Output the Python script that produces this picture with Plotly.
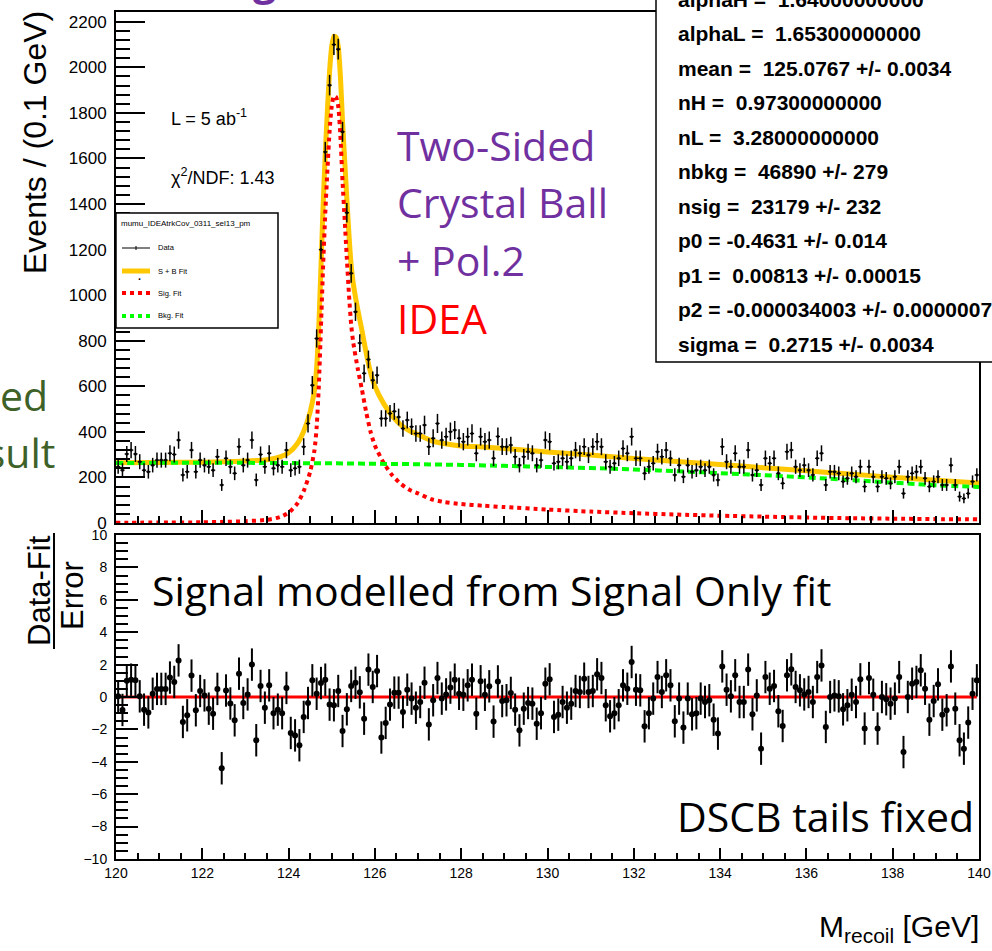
import plotly.graph_objects as go

W, H = 992, 951
def PX(p):
    return p / W
def PY(p):
    return 1 - p / H

HELV = "Liberation Sans, Arial, Helvetica, sans-serif"
SLIDE = "Open Sans, Lato, sans-serif"

# ---------------- data ----------------
bin_centers = [round(120.05 + 0.1 * i, 2) for i in range(200)]

events = [
    247, 232, 303, 320, 303, 269, 232, 225, 254, 276,
    276, 276, 306, 301, 364, 211, 225, 320, 225, 276,
    254, 247, 232, 291, 167, 284, 247, 218, 335, 254,
    276, 364, 189, 301, 247, 306, 240, 254, 247, 320,
    232, 240, 247, 335, 437, 605, 810, 1200, 1629, 1922,
    2100, 2080, 1717, 1362, 1096, 927, 790, 657, 718, 627,
    649, 459, 459, 481, 490, 465, 415, 452, 423, 393,
    393, 430, 335, 372, 437, 364, 379, 401, 408, 372,
    357, 379, 393, 306, 379, 357, 364, 284, 380, 335,
    335, 342, 291, 254, 291, 313, 306, 254, 276, 364,
    357, 262, 269, 284, 269, 284, 320, 306, 335, 298,
    335, 357, 335, 269, 247, 262, 284, 327, 306, 379,
    284, 284, 218, 247, 262, 313, 291, 320, 284, 211,
    254, 203, 254, 225, 232, 247, 232, 247, 211, 189,
    335, 269, 247, 306, 247, 247, 320, 211, 232, 167,
    284, 262, 284, 218, 174, 313, 320, 247, 232, 254,
    232, 211, 284, 306, 167, 225, 225, 218, 182, 196,
    218, 203, 247, 160, 247, 203, 160, 203, 196, 174,
    203, 247, 130, 203, 218, 225, 247, 196, 160, 182,
    203, 167, 167, 254, 167, 116, 108, 130, 182, 211,
]

events_err = [
    31, 30, 35, 36, 35, 33, 30, 30, 32, 33,
    33, 33, 35, 35, 38, 29, 30, 36, 30, 33,
    32, 31, 30, 34, 26, 34, 31, 30, 37, 32,
    33, 38, 28, 35, 31, 35, 31, 32, 31, 36,
    30, 31, 31, 37, 40, 40, 40, 42, 44, 45,
    46, 46, 44, 43, 41, 40, 39, 39, 39, 38,
    38, 36, 36, 37, 37, 37, 36, 37, 36, 36,
    36, 41, 37, 39, 42, 38, 39, 40, 40, 39,
    38, 39, 40, 35, 39, 38, 38, 34, 39, 37,
    37, 37, 34, 32, 34, 35, 35, 32, 33, 38,
    38, 32, 33, 34, 33, 34, 36, 35, 37, 35,
    37, 38, 37, 33, 31, 32, 34, 36, 35, 39,
    34, 34, 30, 31, 32, 35, 34, 36, 34, 29,
    32, 28, 32, 30, 30, 31, 30, 31, 29, 28,
    37, 33, 31, 35, 31, 31, 36, 29, 30, 26,
    34, 32, 34, 30, 26, 35, 36, 31, 30, 32,
    30, 29, 34, 35, 26, 30, 30, 30, 27, 28,
    30, 28, 31, 25, 31, 28, 25, 28, 28, 26,
    28, 31, 23, 28, 30, 30, 31, 28, 25, 27,
    28, 26, 26, 32, 26, 22, 21, 23, 27, 29,
]

pulls = [
    0.04, -0.8, 1.0, 1.07, 1.03, 0.04, -0.78, -0.95, 0.2, 0.5,
    0.5, 0.5, 1.2, 0.93, 2.26, -1.54, -1.13, 1.32, -0.82, 0.37,
    0.1, -0.72, -1.03, 0.5, -4.4, 0.4, -0.4, -1.44, 1.44, -0.37,
    0.16, 2.0, -2.67, 0.68, -0.66, 0.72, -1.0, -0.78, -1.0, 0.56,
    -2.22, -2.37, -2.98, -1.23, -0.37, 1.03, 0.2, 0.86, 1.07, -0.47,
    -0.51, 0.37, -2.1, -0.76, 0.68, 0.88, 0.29, -1.34, 1.69, 0.62,
    1.6, -2.5, -1.6, -0.47, 0.27, 0.27, -0.93, 0.45, -0.1, -0.66,
    -0.31, 0.88, -1.69, -0.2, 1.17, -0.1, 0.16, 0.58, 1.07, 0.2,
    0.14, 0.72, 1.07, -1.03, 0.97, 0.14, 0.66, -1.52, 0.96, -0.25,
    -0.2, 0.25, -0.78, -2.06, -0.72, -0.37, -0.41, -1.65, -1.0, 0.82,
    1.09, -1.23, -1.09, -0.31, -0.66, -0.41, 0.37, 0.31, 1.13, 0.31,
    0.37, 1.4, 1.17, -0.51, -1.19, -1.0, -0.51, 0.72, 0.51, 2.16,
    0.45, 0.41, -1.81, -1.0, -0.1, 1.23, 0.31, 1.34, 0.72, -1.5,
    -0.1, -1.89, -0.1, -1.07, -1.0, -0.1, -0.31, -0.2, -1.4, -2.26,
    1.89, 0.45, 0.04, 1.34, -0.31, -0.31, 1.69, -1.07, 0.1, -3.19,
    1.23, 0.51, 0.68, -0.88, -1.79, 1.34, 1.71, 0.62, 0.41, 0.16,
    0.31, -0.31, 1.23, 1.95, -1.85, 0.0, 0.1, 0.04, -0.76, -0.51,
    0.14, -0.31, 1.09, -1.95, 1.17, 0.14, -1.95, 0.0, -0.14, -0.41,
    -0.1, 1.23, -3.4, 0.0, 0.82, 0.93, 1.65, 0.51, -1.4, -0.25,
    0.78, -1.09, -0.82, 1.89, -0.72, -2.67, -3.19, -1.58, 0.2, 1.03,
]

curve_x = [120.0, 121.0, 122.0, 122.5, 123.0, 123.5, 123.8, 124.0, 124.2, 124.35,
           124.5, 124.6, 124.65, 124.7, 124.75, 124.8, 124.85, 124.9, 124.95, 125.0,
           125.05, 125.1, 125.15, 125.2, 125.25, 125.3, 125.35, 125.4, 125.45, 125.5,
           125.6, 125.7, 125.8, 125.9, 126.0, 126.2, 126.4, 126.6, 126.8, 127.0,
           127.3, 127.6, 128.0, 128.5, 129.0, 130.0, 131.0, 132.0, 133.0, 134.0,
           135.0, 136.0, 137.0, 138.0, 139.0, 140.0]

sig_fit = [1, 2, 3, 5, 8, 14, 26, 45, 85, 140,
           225, 320, 420, 600, 860, 1130, 1360, 1550, 1720, 1830,
           1875, 1870, 1830, 1700, 1500, 1330, 1160, 1000, 870, 790,
           680, 585, 485, 400, 340, 265, 210, 172, 146, 130,
           105, 92, 83, 76, 70, 59, 50, 43, 37, 32,
           28, 24, 21, 19, 17, 16]

sb_fit = [264, 266, 267, 269, 272, 278, 290, 308, 348, 403,
          488, 583, 683, 863, 1123, 1393, 1623, 1813, 1983, 2093,
          2137, 2132, 2092, 1962, 1762, 1592, 1422, 1262, 1130, 1050,
          940, 845, 745, 660, 600, 525, 470, 431, 405, 388,
          362, 349, 338, 334, 327, 312, 298, 283, 270, 257,
          243, 229, 215, 201, 188, 176]

bkg_x = [120, 121, 122, 123, 124, 125, 126, 127, 128, 129, 130,
         131, 132, 133, 134, 135, 136, 137, 138, 139, 140]
bkg_fit = [263, 264, 264, 264, 263, 262, 260, 258, 255, 251, 246,
           241, 235, 227, 219, 210, 200, 189, 177, 166, 158]

x_ticks = [120, 122, 124, 126, 128, 130, 132, 134, 136, 138, 140]

stats_lines = [
    "alphaH =\u00a0 1.64000000000",
    "alphaL =\u00a0 1.65300000000",
    "mean =\u00a0 125.0767 +/- 0.0034",
    "nH =\u00a0 0.97300000000",
    "nL =\u00a0 3.28000000000",
    "nbkg =\u00a0 46890 +/- 279",
    "nsig =\u00a0 23179 +/- 232",
    "p0 = -0.4631 +/- 0.014",
    "p1 =\u00a0 0.00813 +/- 0.00015",
    "p2 = -0.000034003 +/- 0.00000071",
    "sigma =\u00a0 0.2715 +/- 0.0034",
]
legend_title = "mumu_IDEAtrkCov_0311_sel13_pm"
legend_labels = ["Data", "S + B Fit", "Sig. Fit", "Bkg. Fit"]

# colours
C_SB = "#FFC800"
C_SIG = "#FF0000"
C_BKG = "#00FF00"
PURPLE = "#7030A0"
GREEN_TXT = "#3E6128"

fig = go.Figure()

fig.add_trace(go.Scatter(x=curve_x, y=sb_fit, mode="lines", xaxis="x", yaxis="y",
                         line=dict(color=C_SB, width=5, shape="spline", smoothing=0.6)))
fig.add_trace(go.Scatter(x=curve_x, y=sig_fit, mode="lines", xaxis="x", yaxis="y",
                         line=dict(color=C_SIG, width=4, dash="dot", shape="spline", smoothing=0.6)))
fig.add_trace(go.Scatter(x=bkg_x, y=bkg_fit, mode="lines", xaxis="x", yaxis="y",
                         line=dict(color=C_BKG, width=4, dash="7px,4px", shape="spline")))
fig.add_trace(go.Scatter(x=bin_centers, y=events, mode="markers", xaxis="x", yaxis="y",
                         marker=dict(color="black", size=3),
                         error_y=dict(type="data", array=events_err, color="black", thickness=1.5, width=0),
                         error_x=dict(type="constant", value=0.05, color="black", thickness=1.2, width=0)))
fig.add_trace(go.Scatter(x=bin_centers, y=pulls, mode="markers", xaxis="x2", yaxis="y2",
                         marker=dict(color="black", size=6),
                         error_y=dict(type="constant", value=1, color="black", thickness=2, width=0)))

axis_common = dict(showgrid=False, zeroline=False, showline=True, linecolor="black",
                   linewidth=2, mirror=True, ticks="inside", tickcolor="black", tickwidth=2)

fig.update_layout(
    width=W, height=H,
    margin=dict(l=0, r=0, t=0, b=0, pad=0, autoexpand=False),
    paper_bgcolor="white", plot_bgcolor="white",
    showlegend=False,
    xaxis=dict(domain=[PX(116), PX(979)], range=[120, 140], anchor="y",
               showticklabels=False, tickvals=x_ticks, ticklen=13,
               minor=dict(ticks="inside", ticklen=7, dtick=0.5, tickcolor="black", tickwidth=1.5),
               **axis_common),
    yaxis=dict(domain=[PY(523), PY(12)], range=[0, 2243], anchor="x",
               dtick=200, tick0=0, ticklen=29,
               tickfont=dict(family=HELV, size=17, color="black"), ticklabelstandoff=4,
               minor=dict(ticks="inside", ticklen=14, dtick=40, tickcolor="black", tickwidth=1.5),
               **axis_common),
    xaxis2=dict(domain=[PX(116), PX(979)], range=[120, 140], anchor="y2",
                tickvals=x_ticks, ticklen=11,
                tickfont=dict(family=HELV, size=14, color="black"),
                minor=dict(ticks="inside", ticklen=6, dtick=0.5, tickcolor="black", tickwidth=1.5),
                **axis_common),
    yaxis2=dict(domain=[PY(859), PY(535)], range=[-10.001, 10.001], anchor="x2",
                dtick=2, tick0=0, ticklen=22,
                tickfont=dict(family=HELV, size=14, color="black"), ticklabelstandoff=4,
                minor=dict(ticks="inside", ticklen=12, dtick=0.5, tickcolor="black", tickwidth=1.5),
                **axis_common),
)

shapes = []
# zero line in pull panel
shapes.append(dict(type="line", xref="x2", yref="y2", x0=120, x1=139.95, y0=0, y1=0,
                   line=dict(color="red", width=3), layer="below"))
# stats box
shapes.append(dict(type="rect", xref="paper", yref="paper", x0=PX(656), x1=PX(1010),
                   y0=PY(362), y1=PY(-20), fillcolor="white", line=dict(color="black", width=1.5),
                   layer="above"))
# legend box
shapes.append(dict(type="rect", xref="paper", yref="paper", x0=PX(116), x1=PX(278),
                   y0=PY(328), y1=PY(213), fillcolor="white", line=dict(color="black", width=1.5),
                   layer="above"))
leg_y = [248, 271, 293, 316]
shapes.append(dict(type="line", xref="paper", yref="paper", x0=PX(122), x1=PX(150),
                   y0=PY(leg_y[0]), y1=PY(leg_y[0]), line=dict(color="black", width=1), layer="above"))
shapes.append(dict(type="line", xref="paper", yref="paper", x0=PX(136), x1=PX(136),
                   y0=PY(leg_y[0] - 2), y1=PY(leg_y[0] + 2), line=dict(color="black", width=1), layer="above"))
shapes.append(dict(type="line", xref="paper", yref="paper", x0=PX(122), x1=PX(150),
                   y0=PY(leg_y[1]), y1=PY(leg_y[1]), line=dict(color=C_SB, width=5), layer="above"))
shapes.append(dict(type="line", xref="paper", yref="paper", x0=PX(122), x1=PX(150),
                   y0=PY(leg_y[2]), y1=PY(leg_y[2]), line=dict(color=C_SIG, width=4, dash="dot"), layer="above"))
shapes.append(dict(type="line", xref="paper", yref="paper", x0=PX(122), x1=PX(150),
                   y0=PY(leg_y[3]), y1=PY(leg_y[3]), line=dict(color=C_BKG, width=4, dash="dot"), layer="above"))
# fraction bar of the pull-axis title
shapes.append(dict(type="line", xref="paper", yref="paper", x0=PX(54), x1=PX(54),
                   y0=PY(533), y1=PY(649), line=dict(color="black", width=2)))
fig.update_layout(shapes=shapes)

anns = []
def ann(text, x, y, size, color="black", family=HELV, xanchor="left", yanchor="middle", angle=0):
    anns.append(dict(text=text, x=PX(x), y=PY(y), xref="paper", yref="paper",
                     xanchor=xanchor, yanchor=yanchor, showarrow=False, textangle=angle,
                     font=dict(family=family, size=size, color=color)))

# legend contents
ann(legend_title, 119, 224, 8)
for lab, yy in zip(legend_labels, leg_y):
    ann(lab, 156, yy, 7.5)
# legend dot on S+B
anns.append(dict(text="\u2022", x=PX(136), y=PY(271), xref="paper", yref="paper", showarrow=False,
                 font=dict(size=8, color="black")))

# stats text
for i, line in enumerate(stats_lines):
    ann("<b>" + line + "</b>", 676, -1 + 34.5 * i, 21)

# info texts
ann("L = 5 ab<sup>-1</sup>", 169, 117, 18)
ann("\u03c7<sup>2</sup>/NDF: 1.43", 169, 177, 18)

# slide overlay texts
ann("Two-Sided", 395, 145, 41, PURPLE, SLIDE)
ann("Crystal Ball", 395, 202, 41, PURPLE, SLIDE)
ann("+ Pol.2", 395, 260, 41, PURPLE, SLIDE)
ann("IDEA", 395, 318, 41, "#FF0000", SLIDE)
ann("Signal modelled from Signal Only fit", 150, 590, 41, "black", SLIDE)
ann("DSCB tails fixed", 976, 816, 41, "black", SLIDE, xanchor="right")
ann("Fixed", 50, 395, 41, GREEN_TXT, SLIDE, xanchor="right")
ann("result", 57, 452, 41, GREEN_TXT, SLIDE, xanchor="right")
ann("<b>g</b>", 264, -21, 41, PURPLE, SLIDE, xanchor="center")

# axis titles
ann("Events / (0.1 GeV)", 35, 143, 32, xanchor="center", angle=-90)
ann("Data-Fit", 39, 591, 31, xanchor="center", angle=-90)
ann("Error", 72, 596, 31, xanchor="center", angle=-90)
ann("M<sub>recoil</sub> [GeV]", 981, 928, 30, xanchor="right")

fig.update_layout(annotations=anns)

fig.write_html("out.html", config={"displayModeBar": False})
